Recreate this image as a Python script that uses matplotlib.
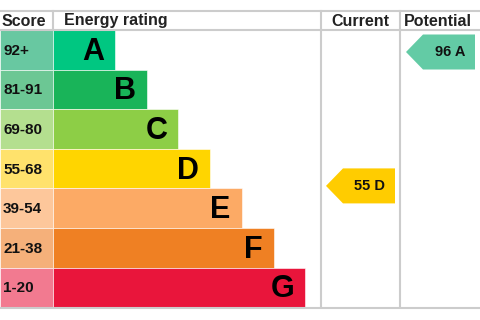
import matplotlib
matplotlib.use("Agg")
import matplotlib.pyplot as plt
from matplotlib.patches import Polygon

plt.rcParams['font.family'] = ['Liberation Sans', 'DejaVu Sans']

# EPC bands
ratings = ['A', 'B', 'C', 'D', 'E', 'F', 'G']
score_labels = ['92+', '81-91', '69-80', '55-68', '39-54', '21-38', '1-20']
band_hi = [100, 91, 80, 68, 54, 38, 20]
band_lo = [92, 81, 69, 55, 39, 21, 1]
bar_colors = ['#00c781', '#19b459', '#8dce46', '#ffd500', '#fcaa65', '#ef8023', '#e9153b']
score_colors = ['#68c8a1', '#6cc794', '#b4df8f', '#ffe26c', '#fdc79b', '#f5b07a', '#f27a90']

current_score, current_rating = 55, 'D'
potential_score, potential_rating = 96, 'A'
current_color = '#ffcc00'
potential_color = '#63cba5'

# layout (pixel units)
W, H = 480, 320
top_line, head_bottom, row_h = 11, 30, 39.6
score_w = 53
bar_len0, bar_step = 62, 31.7
col_cur, col_pot = 321, 400
grid_c = '#cccccc'

fig = plt.figure(figsize=(4.8, 3.2), dpi=100)
ax = fig.add_axes([0, 0, 1, 1])
ax.set_xlim(0, W)
ax.set_ylim(H, 0)
ax.axis('off')

rows = range(len(ratings))
ys = [head_bottom + row_h * (i + 0.5) for i in rows]
bottom = head_bottom + row_h * len(ratings)

# score cells and bars
ax.barh(ys, score_w, height=row_h, left=0, color=score_colors, edgecolor='white', linewidth=0.4)
widths = [bar_len0 + bar_step * i for i in rows]
ax.barh(ys, widths, height=row_h, left=score_w, color=bar_colors, edgecolor='white', linewidth=0.4)

for i in rows:
    ax.text(3, ys[i] + 1, score_labels[i], fontsize=11, fontweight='bold', va='center', ha='left', color='#111111')
    ax.text(score_w + widths[i] - 11, ys[i] + 2, ratings[i], fontsize=22, fontweight='bold',
            va='center', ha='right', color='black')

# grid lines
ax.plot([0, W], [top_line, top_line], color=grid_c, lw=1.5)
ax.plot([0, W], [head_bottom, head_bottom], color=grid_c, lw=1.5)
ax.plot([0, W], [bottom + 0.8, bottom + 0.8], color=grid_c, lw=1.5)
ax.plot([score_w, score_w], [top_line, head_bottom], color=grid_c, lw=1.5)
for x in (col_cur, col_pot):
    ax.plot([x, x], [top_line, bottom], color=grid_c, lw=1.5)

# headers
hy = (top_line + head_bottom) / 2 + 0.5
hfs = 11.5
ax.text(2, hy, 'Score', fontsize=hfs, fontweight='bold', va='center', ha='left', color='#222222')
ax.text(score_w + 11, hy, 'Energy rating', fontsize=hfs, fontweight='bold', va='center', ha='left', color='#222222')
ax.text((col_cur + col_pot) / 2, hy, 'Current', fontsize=hfs, fontweight='bold', va='center', ha='center', color='#222222')
ax.text(col_pot + 4, hy, 'Potential', fontsize=hfs, fontweight='bold', va='center', ha='left', color='#222222')


def score_y(score, rating):
    i = ratings.index(rating)
    frac = (band_hi[i] - score + 1) / (band_hi[i] - band_lo[i] + 1)
    y = head_bottom + row_h * (i + frac)
    return min(max(y, head_bottom + row_h * i + 20), head_bottom + row_h * (i + 1) - 2.5)


def arrow(x0, x1, yc, color, label):
    hh = 17.5
    tip = 17
    pts = [(x0, yc), (x0 + tip, yc - hh), (x1, yc - hh), (x1, yc + hh), (x0 + tip, yc + hh)]
    ax.add_patch(Polygon(pts, closed=True, facecolor=color, edgecolor='none'))
    ax.text((x0 + tip + x1) / 2 + 1, yc + 0.5, label, fontsize=10.5, fontweight='bold',
            va='center', ha='center', color='#111111')


arrow(col_cur + 5, col_pot - 5, score_y(current_score, current_rating), current_color,
      f'{current_score} {current_rating}')
arrow(col_pot + 6, W - 5, score_y(potential_score, potential_rating), potential_color,
      f'{potential_score} {potential_rating}')

fig.savefig('out.png', dpi=100)
